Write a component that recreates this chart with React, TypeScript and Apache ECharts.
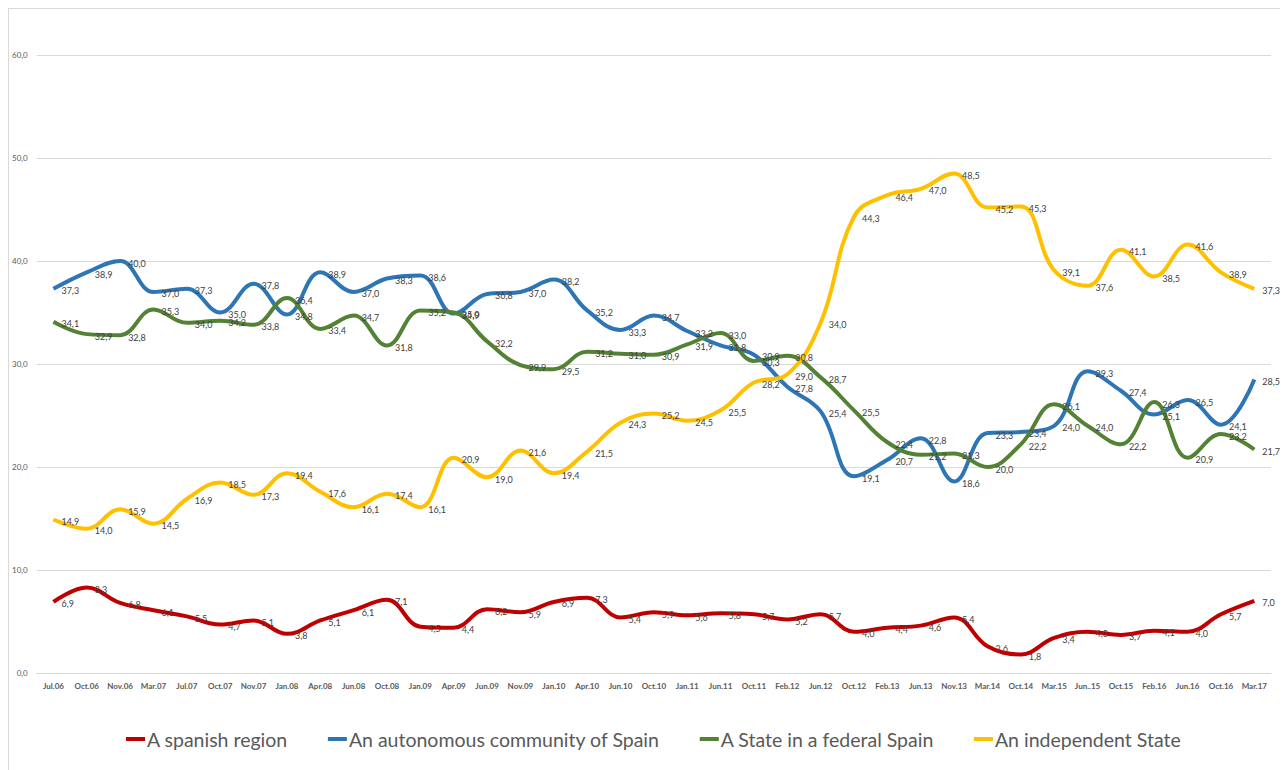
import React, { useEffect, useRef } from "react";
import * as echarts from "echarts";

const categories = [
  "Jul.06", "Oct.06", "Nov.06", "Mar.07", "Jul.07", "Oct.07", "Nov.07", "Jan.08", "Apr.08", "Jun.08",
  "Oct.08", "Jan.09", "Apr.09", "Jun.09", "Nov.09", "Jan.10", "Apr.10", "Jun.10", "Oct.10", "Jan.11",
  "Jun.11", "Oct.11", "Feb.12", "Jun.12", "Oct.12", "Feb.13", "Jun.13", "Nov.13", "Mar.14", "Oct.14",
  "Mar.15", "Jun..15", "Oct.15", "Feb.16", "Jun.16", "Oct.16", "Mar.17",
];

const spanishRegion = [
  6.9, 8.3, 6.8, 6.1, 5.5, 4.7, 5.1, 3.8, 5.1, 6.1,
  7.1, 4.5, 4.4, 6.2, 5.9, 6.9, 7.3, 5.4, 5.9, 5.6,
  5.8, 5.7, 5.2, 5.7, 4.0, 4.4, 4.6, 5.4, 2.6, 1.8,
  3.4, 4.0, 3.7, 4.1, 4.0, 5.7, 7.0,
];

const autonomousCommunity = [
  37.3, 38.9, 40.0, 37.0, 37.3, 35.0, 37.8, 34.8, 38.9, 37.0,
  38.3, 38.6, 34.9, 36.8, 37.0, 38.2, 35.2, 33.3, 34.7, 33.2,
  31.8, 30.9, 27.8, 25.4, 19.1, 20.7, 22.8, 18.6, 23.3, 23.4,
  24.0, 29.3, 27.4, 25.1, 26.5, 24.1, 28.5,
];

const federalState = [
  34.1, 32.9, 32.8, 35.3, 34.0, 34.2, 33.8, 36.4, 33.4, 34.7,
  31.8, 35.2, 35.0, 32.2, 29.9, 29.5, 31.2, 31.0, 30.9, 31.9,
  33.0, 30.3, 30.8, 28.7, 25.5, 22.4, 21.2, 21.3, 20.0, 22.2,
  26.1, 24.0, 22.2, 26.3, 20.9, 23.2, 21.7,
];

const independentState = [
  14.9, 14.0, 15.9, 14.5, 16.9, 18.5, 17.3, 19.4, 17.6, 16.1,
  17.4, 16.1, 20.9, 19.0, 21.6, 19.4, 21.5, 24.3, 25.2, 24.5,
  25.5, 28.2, 29.0, 34.0, 44.3, 46.4, 47.0, 48.5, 45.2, 45.3,
  39.1, 37.6, 41.1, 38.5, 41.6, 38.9, 37.3,
];

const seriesNames = [
  "A spanish region",
  "An autonomous community of Spain",
  "A State in a federal Spain",
  "An independent State",
];
const seriesColors = ["#C00000", "#2E75B6", "#548235", "#FFC000"];
const seriesData = [spanishRegion, autonomousCommunity, federalState, independentState];

const fmt = (v: number) => v.toFixed(1).replace(".", ",");

export default function App() {
  const ref = useRef<HTMLDivElement>(null);
  useEffect(() => {
    document.documentElement.style.overflow = "hidden";
    document.body.style.overflow = "hidden";
    if (!ref.current) return;
    const chart = echarts.init(ref.current, null, { renderer: "svg" });
    chart.setOption({
      animation: false,
      backgroundColor: "#ffffff",
      textStyle: { fontFamily: "Lato, 'Noto Sans', sans-serif" },
      grid: { left: 27, right: 17, top: 46, bottom: 97, containLabel: false },
      legend: {
        left: 112,
        top: 715,
        icon: "rect",
        itemWidth: 19,
        itemHeight: 4,
        itemGap: 40,
        textStyle: { fontSize: 19.5, color: "#595959", fontFamily: "Lato, sans-serif", padding: [0, 0, 0, -3] },
        data: seriesNames,
      },
      xAxis: {
        type: "category",
        data: categories,
        boundaryGap: true,
        axisLine: { show: true, lineStyle: { color: "#d9d9d9", width: 1 } },
        axisTick: { show: false },
        axisLabel: { interval: 0, fontSize: 8, color: "#595959", margin: 9, fontWeight: "bold" },
      },
      yAxis: {
        type: "value",
        min: 0,
        max: 60,
        interval: 10,
        axisLine: { show: false },
        axisTick: { show: false },
        splitLine: { lineStyle: { color: "#d9d9d9", width: 1 } },
        axisLabel: { fontSize: 8, color: "#595959", margin: 9, formatter: (v: number) => fmt(v) },
      },
      series: seriesData.map((d, i) => ({
        name: seriesNames[i],
        type: "line",
        data: d,
        smooth: 0.4,
        symbol: "circle",
        symbolSize: 0,
        showSymbol: true,
        lineStyle: { color: seriesColors[i], width: 4 },
        itemStyle: { color: seriesColors[i] },
        label: {
          show: true,
          position: "right",
          distance: 8,
          offset: [0, 2],
          fontSize: 9,
          color: "#404040",
          formatter: (p: any) => fmt(p.value),
        },
      })),
    });
    return () => chart.dispose();
  }, []);
  return (
    <div
      style={{
        width: 1280,
        height: 762,
        borderLeft: "1px solid #d9d9d9",
        borderTop: "1px solid #d9d9d9",
        boxSizing: "border-box",
        background: "#fff",
      }}
    >
      <div ref={ref} style={{ width: 1279, height: 761 }} />
    </div>
  );
}
